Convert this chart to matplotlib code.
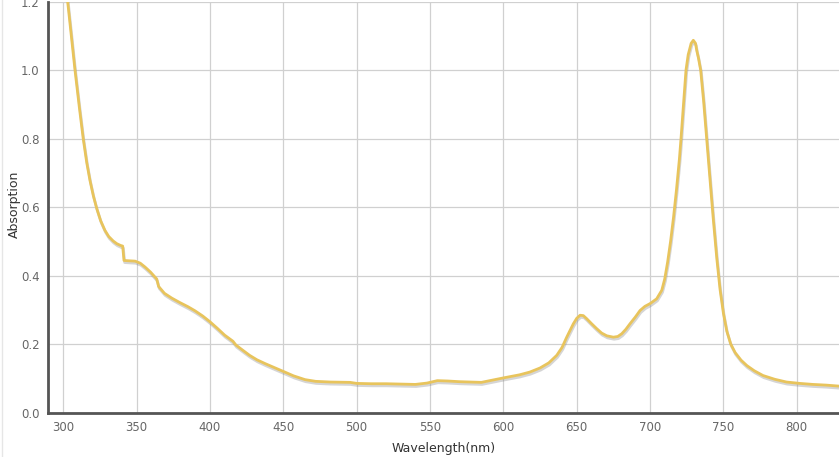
import matplotlib
matplotlib.use("Agg")
import matplotlib.pyplot as plt
import matplotlib.patheffects as pe
from matplotlib.lines import Line2D

wavelength = [301, 303, 305.5, 308, 311, 313.6, 316, 318.2, 320.5, 322.8, 325.5, 328.4,
              331, 334, 336.5, 339, 340.5, 341.4, 345, 349, 352.5, 355.7, 359.5, 363.7,
              365, 369, 374, 379.5, 385, 389.8, 395, 400, 405, 410, 415.7, 417.7,
              422, 427, 432, 437.5, 444, 450, 457, 464.8, 472, 482, 495.5, 500, 510,
              520, 530, 540, 548, 555, 562, 570, 585, 600, 611, 618, 625, 631, 636.4,
              640, 643.2, 645.5, 647.7, 650, 652.3, 654.5, 656.8, 660, 663.6, 667,
              670.5, 675, 678, 680.7, 683.5, 686.3, 690, 693.2, 696.5, 700, 704.5, 708,
              710, 712, 714, 716, 718, 720, 721.1, 722.8, 724.5, 726, 726.8, 728,
              729.5, 731, 731.8, 733, 734.5, 736.5, 738.6, 740.5, 743, 745.5, 747.7,
              750, 752.3, 755, 758, 762, 766, 771, 777, 785, 793, 802, 811, 820, 829]
absorption = [1.29, 1.2, 1.1, 1.0, 0.89, 0.8, 0.73, 0.678, 0.633, 0.596, 0.56, 0.532,
              0.514, 0.501, 0.493, 0.488, 0.486, 0.444, 0.443, 0.442, 0.436, 0.425, 0.41, 0.39,
              0.368, 0.348, 0.334, 0.321, 0.309, 0.297, 0.282, 0.265, 0.246, 0.226, 0.208, 0.197,
              0.183, 0.167, 0.154, 0.143, 0.131, 0.12, 0.107, 0.096, 0.091, 0.089, 0.088, 0.085,
              0.084, 0.084, 0.083, 0.082, 0.086, 0.093, 0.092, 0.09, 0.088, 0.101, 0.11, 0.118,
              0.13, 0.145, 0.167, 0.19, 0.22, 0.24, 0.259, 0.275, 0.284, 0.283, 0.274, 0.26,
              0.245, 0.232, 0.224, 0.22, 0.222, 0.23, 0.243, 0.259, 0.279, 0.298, 0.31, 0.318,
              0.332, 0.357, 0.39, 0.44, 0.5, 0.57, 0.65, 0.74, 0.8, 0.9, 1.0, 1.045, 1.058,
              1.078, 1.087, 1.078, 1.058, 1.035, 1.0, 0.91, 0.8, 0.7, 0.57, 0.45, 0.36,
              0.29, 0.238, 0.2, 0.175, 0.153, 0.137, 0.122, 0.108, 0.097, 0.089, 0.085,
              0.082, 0.08, 0.077]

x_ticks = [300, 350, 400, 450, 500, 550, 600, 650, 700, 750, 800]
y_ticks = [0.0, 0.2, 0.4, 0.6, 0.8, 1.0, 1.2]

fig = plt.figure(figsize=(8.39, 4.57), dpi=100)
ax = fig.add_axes([48/839, 1 - 412.5/457, 1 - 48/839, (412.5 - 1.6)/457])

ax.plot(wavelength, absorption, color="#E8C45C", lw=2.0, solid_joinstyle="round",
        path_effects=[pe.SimpleLineShadow(offset=(0.5, -1.5), shadow_color="#888888", alpha=0.35),
                      pe.Normal()], zorder=3)

ax.set_xlim(289.6, 828.8)
ax.set_ylim(0, 1.2)
ax.set_xticks(x_ticks)
ax.set_yticks(y_ticks)
ax.set_yticklabels([f"{v:.1f}" for v in y_ticks])
ax.grid(True, color="#d0d0d0", lw=0.9)
ax.set_axisbelow(True)
for s in ["top", "right"]:
    ax.spines[s].set_visible(False)
for s in ["left", "bottom"]:
    ax.spines[s].set_color("#555555")
    ax.spines[s].set_linewidth(2)
ax.tick_params(length=0, labelsize=8.5, labelcolor="#666666", pad=6)
ax.set_xlabel("Wavelength(nm)", fontsize=9, color="#333333", labelpad=6)
ax.set_ylabel("Absorption", fontsize=9, color="#333333")
ax.yaxis.set_label_coords(-27/791, (412.5 - 204)/411)

fig.add_artist(Line2D([2/839, 2/839], [0, 1], color="#e6e6e6", lw=1))

fig.savefig("out.png", dpi=100)
